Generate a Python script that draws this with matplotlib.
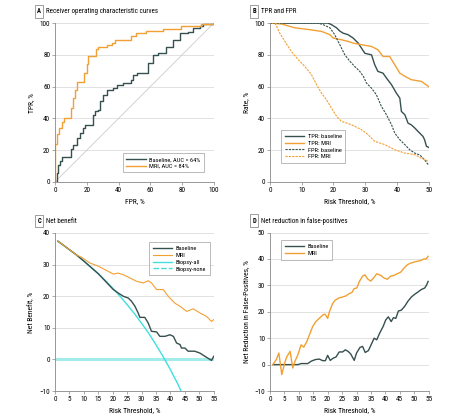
import matplotlib.pyplot as plt
import numpy as np

DARK = "#35504f"
ORANGE = "#f2a033"
CYAN = "#3fe0dc"

# Panel A: ROC curves (FPR %, TPR %)
roc_mri_fpr = [0, 0, 1, 2.5, 4.6, 5.7, 8.4, 10, 11.5, 12.6, 13.6, 17, 18.5, 20, 21, 24.7, 25.6, 27.3,
               32.5, 35.6, 37.7, 46, 48, 51, 57.6, 68, 79.6, 92, 100]
roc_mri_tpr = [0, 24, 30, 34, 38, 40, 40, 46.5, 53, 58, 63, 63, 68.5, 74, 79, 79, 84, 85,
               86, 87.5, 89.5, 89.5, 91.6, 93.7, 95, 96, 98, 99.5, 100]
roc_base_fpr = [0, 1, 2, 3, 4.6, 9.4, 10, 11.5, 13.6, 15.7, 17.8, 18.9, 22.4, 23.7, 25, 27.3, 28.3,
                30.4, 32.5, 36.7, 38.8, 43, 48, 49.3, 51.4, 56.6, 58.7, 61.8, 65, 69, 70.2, 74.4,
                78.6, 84, 87, 91, 93, 100]
roc_base_tpr = [0, 5.6, 11, 13, 16, 16, 21, 23.5, 27.7, 30.8, 34, 36, 36, 42, 44.4, 45.5, 50.7,
                55, 58, 59, 61, 62, 64, 67.5, 68.5, 68.5, 75, 80, 81, 81, 85, 89.5,
                93.7, 94.7, 97, 98, 99.5, 100]

# Panel B: TPR / FPR vs risk threshold
tpr_base_x = [0, 18.3, 19.4, 21, 22, 23, 24.6, 26.2, 27.8, 28.8, 29.9, 32, 33, 34, 35.6, 36.7, 38.3,
              39.8, 40.9, 41.4, 42.5, 43.5, 44.5, 45.6, 46.6, 48.2, 48.7, 49.3, 50]
tpr_base_y = [100, 100, 99, 97, 95, 93.7, 92.7, 90.6, 87.4, 84.3, 81, 80, 73.8, 69.6, 68.5, 65.4, 61.2,
              56, 52.8, 44.4, 42.3, 37, 36, 34, 31.9, 28.7, 26.6, 22.4, 21.8]
tpr_mri_x = [0, 3.7, 7.9, 12, 16.2, 18.9, 19.9, 22.5, 24.6, 26.2, 28.8, 32, 34, 35.6, 37.7, 39.3,
             40.9, 42.5, 44.5, 47.7, 50]
tpr_mri_y = [100, 99.4, 97, 96, 94.8, 92.7, 90.6, 89.5, 88.5, 87.4, 86.4, 85.3, 83.2, 79, 79, 73.8,
             68.5, 66.5, 64.4, 63.3, 60]
fpr_base_x = [0, 15.2, 16.8, 18.9, 20.4, 22, 23.6, 25.2, 26.7, 28.3, 29.4, 30.4, 32, 33.5, 35.1,
              36.7, 38.3, 39.3, 40.9, 42.5, 44, 45.6, 47.2, 48.7, 50]
fpr_base_y = [100, 100, 99, 97, 92.7, 86.4, 80, 75.9, 72.7, 69.6, 66.5, 62.3, 59, 55, 47.6,
              42.3, 36, 30.8, 26.6, 23.5, 20.3, 18.2, 17, 14, 10.5]
fpr_mri_x = [1.6, 3.1, 4.7, 6.8, 8.9, 11, 13.1, 14.7, 16.2, 17.8, 19.4, 21, 22.5, 25.7, 28.8,
             30.9, 33, 36.2, 39.3, 42.5, 45.6, 47.7, 50]
fpr_mri_y = [100, 93.7, 88.5, 82, 77, 72.7, 67.5, 61.2, 56, 51.8, 46.5, 41.3, 38.2, 36, 33,
             29.8, 25.6, 23.5, 20.3, 18.2, 17.2, 15, 13]

# Panel C: net benefit
all_x = [1, 2.5, 5, 7.5, 10, 12.5, 15, 17.5, 20, 22.5, 25, 27.5, 30, 32.5, 35, 37.5, 40, 42.5, 44]
all_y = [37.4, 36.4, 34.7, 33.0, 31.1, 29.1, 27.1, 24.9, 22.5, 20.0, 17.3, 14.5, 11.4, 8.2, 4.6,
         0.8, -3.3, -7.7, -10.7]
nb_base_x = [1, 2.5, 5, 7.5, 10, 12.5, 15, 17.9, 20.2, 21.9, 23.6, 25.4, 26.5, 27.7, 28.8, 29.4,
             31.1, 32.3, 33.4, 35.2, 36.3, 38.1, 39.8, 41, 42.1, 43.3, 43.8, 45, 46.1, 48.4,
             50.2, 51.9, 54.2, 55]
nb_base_y = [37.4, 36.4, 34.7, 33.0, 31.1, 29.1, 27.1, 24.3, 22.1, 21, 20, 19.4, 18.4, 16.8, 14.7,
             13.3, 13.3, 11.5, 8.9, 8.7, 7.3, 7.3, 7.8, 7.3, 5.2, 4.7, 3.6, 3.6, 2.6, 2.6,
             2.0, 1.0, -0.3, 1.0]
nb_mri_x = [1, 2.5, 5, 7.5, 9.2, 12.1, 15, 17.3, 19.6, 20.2, 21.9, 23.6, 25.9, 28.3, 30.6, 32.3,
            33.4, 35.2, 37.5, 39.2, 41.5, 43.3, 45.6, 47.9, 50.2, 52.5, 54.2, 55]
nb_mri_y = [37.4, 36.4, 34.7, 33.0, 32.3, 30.5, 29.5, 28.4, 27.3, 27, 27.3, 26.8, 25.8, 24.7, 24.2,
            24.9, 24.2, 22.1, 22.1, 20, 17.8, 16.8, 15.2, 16, 14.7, 13.6, 12, 12.6]
none_x = [0, 55]
none_y = [0, 0]

# Panel D: net reduction in false positives
nr_mri_x = [1, 2.2, 3.1, 4.1, 5.1, 5.9, 7, 7.9, 8.7, 9.7, 10.8, 11.7, 12.8, 13.7, 14.8, 15.9, 17.1,
            18.3, 19.1, 20, 20.6, 21.7, 22.6, 24, 25.2, 26.3, 27.5, 28.4, 29.2, 30.1, 30.9, 32.1,
            32.9, 33.8, 34.9, 36.1, 37, 38.4, 39.5, 40.7, 41.8, 43, 44.1, 45.3, 46.4, 47.6, 48.7,
            49.9, 51, 52.2, 53.3, 54.1, 54.8]
nr_mri_y = [0, 1.9, 4.4, -3.8, 0.6, 3.1, 5, -1.3, 1.3, 3.8, 7.5, 6.6, 8.8, 11.3, 14.4, 16.3, 17.5,
            18.8, 19.1, 17.5, 20, 23.1, 24.4, 25.3, 25.6, 26, 26.9, 27.3, 28.8, 29, 31.3, 33.5,
            34, 32.5, 31.6, 33.1, 34.4, 33.8, 32.8, 32.3, 33.5, 33.8, 34.4, 35, 36.5, 37.8, 38.4,
            38.8, 39.1, 39.4, 40, 40, 41]
nr_base_x = [1, 9.7, 10.8, 13.1, 14.3, 15.7, 17.1, 18.3, 19.2, 20, 20.9, 22, 22.9, 24, 25.2, 26.1,
             27.1, 28, 29.2, 30, 31.2, 32.1, 33, 34.1, 35.3, 36.1, 37, 38, 39.2, 40.1, 41, 42,
             42.8, 43.6, 44.5, 45.5, 46.7, 47.8, 49, 50.1, 51.3, 52.4, 53.6, 54.2, 54.8]
nr_base_y = [0, 0, 0.4, 0.4, 1.3, 1.9, 2.1, 1.5, 1.5, 3.5, 1.6, 2.5, 2.9, 4.8, 4.8, 5.6,
             5, 4, 1.6, 4.4, 6.5, 6.9, 4.6, 5.3, 8.1, 10, 9.4, 11.9, 14.4, 16.9, 18.1, 16.3,
             17.8, 17.5, 20.3, 20.6, 22.1, 24, 25.6, 26.6, 27.5, 28.4, 29, 30, 31.5]

plt.rcParams['font.family'] = ['Roboto Condensed', 'DejaVu Sans']
fig = plt.figure(figsize=(4.67, 4.16), dpi=100, facecolor="white")

W, H = 0.340, 0.382
axA = fig.add_axes([0.1178, 0.5625, W, H])
axB = fig.add_axes([0.578, 0.5625, W, H])
axC = fig.add_axes([0.1178, 0.060, W, 0.380])
axD = fig.add_axes([0.578, 0.060, W, 0.381])


def style(ax, title, letter):
    for s in ['top', 'right']:
        ax.spines[s].set_visible(False)
    for s in ['left', 'bottom']:
        ax.spines[s].set_color("#888888")
        ax.spines[s].set_linewidth(0.6)
    ax.tick_params(labelsize=5.2, length=2, width=0.5, color="#888888", pad=1.5)
    ax.yaxis.grid(True, color="#dddddd", linewidth=0.6)
    ax.set_axisbelow(True)
    ax.text(-0.10, 1.075, letter, transform=ax.transAxes, fontsize=4.8, fontweight='bold',
            va='center', ha='center',
            bbox=dict(boxstyle='square,pad=0.35', fc='white', ec='#777777', lw=0.5))
    ax.text(-0.055, 1.075, title, transform=ax.transAxes, fontsize=5.0, va='center', ha='left')


def legend(ax, **kw):
    leg = ax.legend(fontsize=4.6, frameon=True, fancybox=False, edgecolor="#888888",
                    handlelength=3.0, handletextpad=0.6, borderpad=0.55, labelspacing=0.2, **kw)
    leg.get_frame().set_linewidth(0.5)
    return leg


# A
axA.plot([0, 100], [0, 100], color="#cccccc", lw=0.6)
axA.plot(roc_base_fpr, roc_base_tpr, color=DARK, lw=1.0, drawstyle='steps-post',
         label='Baseline, AUC = 64%')
axA.plot(roc_mri_fpr, roc_mri_tpr, color=ORANGE, lw=1.0, drawstyle='steps-post',
         label='MRI, AUC = 84%')
axA.set_xlim(0, 100)
axA.set_ylim(0, 100)
axA.set_xticks(range(0, 101, 20))
axA.set_yticks(range(0, 101, 20))
axA.set_xlabel('FPR, %', fontsize=5.4, labelpad=3)
axA.set_ylabel('TPR, %', fontsize=5.4, labelpad=3)
style(axA, 'Receiver operating characteristic curves', 'A')
legend(axA, loc='lower right', bbox_to_anchor=(0.96, 0.04))

# B
axB.plot(tpr_base_x, tpr_base_y, color=DARK, lw=1.0, label='TPR: baseline')
axB.plot(tpr_mri_x, tpr_mri_y, color=ORANGE, lw=1.0, label='TPR: MRI')
axB.plot(fpr_base_x, fpr_base_y, color=DARK, lw=0.8, ls=(0, (2, 1)), label='FPR: baseline')
axB.plot(fpr_mri_x, fpr_mri_y, color=ORANGE, lw=0.8, ls=(0, (2, 1)), label='FPR: MRI')
axB.set_xlim(0, 50)
axB.set_ylim(0, 100)
axB.set_xticks(range(0, 51, 10))
axB.set_yticks(range(0, 101, 20))
axB.set_xlabel('Risk Threshold, %', fontsize=5.4, labelpad=3)
axB.set_ylabel('Rate, %', fontsize=5.4, labelpad=3)
style(axB, 'TPR and FPR', 'B')
legend(axB, loc='lower left', bbox_to_anchor=(0.05, 0.1))

# C
axC.plot(nb_base_x, nb_base_y, color=DARK, lw=1.0, label='Baseline', zorder=3)
axC.plot(nb_mri_x, nb_mri_y, color=ORANGE, lw=0.8, label='MRI', zorder=3)
axC.plot(all_x, all_y, color=CYAN, lw=1.0, label='Biopsy-all', zorder=2)
axC.plot(none_x, none_y, color="#a3ece9", lw=2.2, label='Biopsy-none', zorder=1)
axC.set_xlim(0, 55)
axC.set_ylim(-10, 40)
axC.set_xticks(range(0, 56, 5))
axC.set_yticks(range(-10, 41, 10))
axC.set_xlabel('Risk Threshold, %', fontsize=5.4, labelpad=3)
axC.set_ylabel('Net Benefit, %', fontsize=5.4, labelpad=3)
style(axC, 'Net benefit', 'C')
lg = legend(axC, loc='upper right', bbox_to_anchor=(0.995, 0.96))
lg.get_lines()[3].set_linewidth(1.0)
lg.get_lines()[3].set_linestyle((0, (4, 1.5)))
lg.get_lines()[3].set_color(CYAN)

# D
axD.plot(nr_base_x, nr_base_y, color=DARK, lw=1.0, label='Baseline')
axD.plot(nr_mri_x, nr_mri_y, color=ORANGE, lw=1.0, label='MRI')
axD.set_xlim(0, 55)
axD.set_ylim(-10, 50)
axD.set_xticks(range(0, 56, 5))
axD.set_yticks(range(-10, 51, 10))
axD.set_xlabel('Risk Threshold, %', fontsize=5.4, labelpad=3)
axD.set_ylabel('Net Reduction in False-Positives, %', fontsize=5.4, labelpad=3)
style(axD, 'Net reduction in false-positives', 'D')
legend(axD, loc='upper left', bbox_to_anchor=(0.05, 0.97))

fig.savefig("out.png", dpi=100)
